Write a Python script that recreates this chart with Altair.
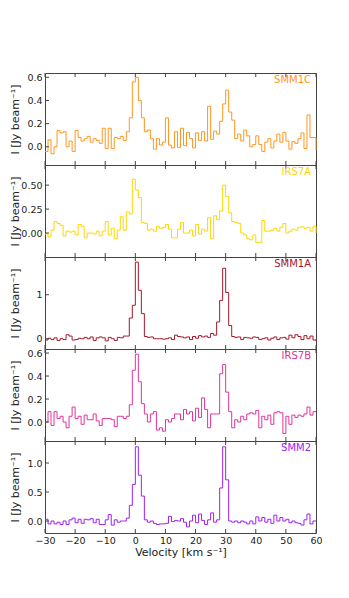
import altair as alt
import pandas as pd

velocity = list(range(-30, 61))

smm1c = [-0.04, 0.06, -0.06, 0.0, 0.14, 0.12, 0.13, 0.0, 0.05, -0.04,
         0.14, 0.08, 0.05, 0.07, 0.09, 0.04, 0.07, 0.055, 0.03, 0.16,
         -0.015, 0.16, -0.015, 0.08, 0.07, 0.09, 0.055, 0.13, 0.25, 0.56,
         0.6, 0.4, 0.25, 0.13, 0.145, 0.07, -0.02, 0.07, 0.015, 0.04,
         0.25, 0.015, -0.01, 0.13, -0.005, 0.16, 0.01, 0.125, 0.07, -0.01,
         0.12, 0.055, 0.13, 0.05, 0.35, 0.065, 0.135, 0.11, 0.22, 0.37,
         0.49, 0.3, 0.23, 0.07, 0.11, 0.05, 0.145, 0.095, 0.0, 0.02,
         0.095, 0.02, -0.04, 0.04, 0.07, -0.01, 0.05, 0.11, 0.04, 0.125,
         0.05, -0.02, 0.045, 0.03, 0.07, 0.12, -0.015, 0.275, 0.08, 0.08, -0.03]

irs7a = [-0.01, -0.04, 0.03, 0.12, 0.1, 0.08, -0.03, 0.02, 0.01, 0.02,
         -0.02, 0.09, 0.07, -0.05, 0.0, 0.0, -0.01, 0.02, -0.03, 0.02,
         0.12, -0.02, 0.05, -0.06, 0.03, 0.17, 0.03, 0.22, 0.2, 0.56,
         0.45, 0.37, 0.11, 0.1, 0.03, 0.04, 0.02, 0.07, 0.05, 0.06,
         0.09, 0.04, -0.05, -0.05, 0.04, 0.11, 0.0, 0.0, 0.03, -0.03,
         0.09, -0.01, 0.04, 0.02, 0.16, -0.06, 0.18, 0.14, 0.23, 0.5,
         0.38, 0.21, 0.12, 0.11, 0.1, 0.0, -0.02, -0.06, -0.07, -0.02,
         -0.1, -0.1, 0.13, 0.02, 0.02, 0.03, 0.05, 0.02, 0.06, 0.1,
         0.0, 0.02, 0.04, 0.03, 0.06, 0.065, 0.05, 0.06, 0.02, 0.07, 0.0]

smm1a = [-0.03, 0.01, -0.02, 0.02, -0.04, 0.0, -0.02, 0.09, 0.06, -0.03,
         -0.02, 0.01, 0.0, 0.03, 0.0, 0.04, -0.04, 0.02, 0.04, 0.02,
         -0.05, 0.03, 0.0, -0.04, 0.03, 0.02, 0.06, 0.06, 0.47, 0.76,
         1.74, 1.1, 0.57, 0.05, 0.03, 0.04, 0.0, 0.0, 0.0, -0.01,
         0.0, 0.02, -0.02, 0.08, 0.05, 0.04, 0.02, 0.04, -0.02, 0.05,
         0.01, 0.07, 0.04, 0.06, 0.03, 0.12, 0.08, 0.38, 0.87, 1.6,
         1.05, 0.3, 0.05, 0.03, 0.04, -0.02, 0.03, 0.02, 0.01, 0.04,
         0.03, -0.02, 0.0, 0.02, -0.03, 0.01, 0.04, -0.02, 0.02, 0.03,
         -0.01, 0.08, 0.02, 0.09, 0.05, -0.02, 0.07, 0.0, 0.06, -0.03, -0.05]

irs7b = [0.0, 0.09, -0.03, 0.09, 0.03, 0.05, 0.0, -0.05, 0.05, 0.13,
         0.03, 0.05, -0.02, 0.06, 0.02, 0.02, 0.07, 0.01, -0.03, 0.03,
         0.03, 0.03, 0.02, -0.04, 0.05, 0.05, 0.03, 0.05, 0.15, 0.45,
         0.59, 0.35, 0.16, 0.07, 0.0, 0.07, 0.09, -0.07, -0.05, -0.08,
         0.02, 0.0, 0.03, 0.07, 0.07, 0.02, 0.11, 0.07, 0.09, 0.01,
         0.12, 0.04, 0.21, 0.11, -0.05, 0.07, 0.07, 0.07, 0.42, 0.5,
         0.26, 0.09, -0.05, 0.02, 0.0, 0.05, 0.02, 0.07, 0.08, 0.07,
         0.1, -0.05, 0.05, 0.02, 0.06, -0.02, 0.08, 0.09, 0.08, -0.1,
         0.05, -0.02, 0.06, 0.04, 0.06, 0.05, 0.07, 0.13, 0.06, 0.09, 0.09]

smm2 = [0.03, -0.05, 0.0, -0.05, -0.02, -0.06, 0.0, -0.06, 0.02, 0.05,
        -0.03, 0.03, -0.04, 0.03, 0.02, 0.04, -0.03, 0.03, -0.06, -0.06,
        0.02, 0.11, -0.07, 0.02, -0.02, 0.0, 0.0, 0.05, 0.27, 0.63,
        1.28, 0.79, 0.43, 0.02, -0.02, 0.0, -0.04, -0.06, -0.05, -0.05,
        -0.04, 0.08, -0.01, 0.01, 0.0, 0.04, -0.02, -0.1, 0.0, 0.1,
        -0.03, 0.12, 0.01, -0.06, 0.02, 0.14, -0.02, 0.02, 0.57, 1.28,
        0.71, 0.0, -0.02, 0.0, -0.03, 0.0, -0.02, -0.05, 0.0, -0.05,
        0.07, 0.0, 0.06, -0.02, 0.03, -0.04, 0.1, 0.0, 0.06, 0.0,
        0.03, -0.03, 0.0, -0.03, -0.04, -0.07, 0.02, 0.12, -0.05, 0.0, 0.0]

names = ["SMM1C", "IRS7A", "SMM1A", "IRS7B", "SMM2"]
values = [smm1c, irs7a, smm1a, irs7b, smm2]
colors = ["#FF9620", "#FFD700", "#A8182A", "#E0359A", "#A020F0"]
y_domains = [[-0.157, 0.637], [-0.25, 0.71], [-0.234, 1.857], [-0.165, 0.635], [-0.207, 1.38]]
y_ticks = [[0.0, 0.2, 0.4, 0.6], [0.0, 0.25, 0.5], [0, 1], [0.0, 0.2, 0.4, 0.6], [0.0, 0.5, 1.0]]
y_formats = [".1f", ".2f", "d", ".1f", ".1f"]
x_ticks = [-30, -20, -10, 0, 10, 20, 30, 40, 50, 60]

W, H = 271, 92
FRAME = "#444444"
FONT = "DejaVu Sans"


def panel(i):
    bottom = i == len(names) - 1
    df = pd.DataFrame({"v": velocity, "f": values[i]})
    xs = alt.Scale(domain=[-30, 60], nice=False, zero=False)
    ys = alt.Scale(domain=y_domains[i], nice=False, zero=False)
    if bottom:
        xax = alt.Axis(values=x_ticks, ticks=False, domain=False, grid=False,
                       labelPadding=2, title="Velocity [km s⁻¹]", titlePadding=2,
                       labelFlush=False, labelOverlap=False)
    else:
        xax = None
    yax = alt.Axis(values=y_ticks[i], format=y_formats[i], ticks=False, domain=False,
                   grid=False, labelPadding=3, title="I [Jy beam⁻¹]",
                   titlePadding=3, minExtent=22, maxExtent=22,
                   labelOverlap=False, labelFlush=False)
    line = alt.Chart(df).mark_line(interpolate="step-after", color=colors[i],
                                   strokeWidth=1).encode(
        x=alt.X("v:Q", scale=xs, axis=xax),
        y=alt.Y("f:Q", scale=ys, axis=yax),
    )
    xt = pd.DataFrame({"v": x_ticks})
    yt = pd.DataFrame({"f": y_ticks[i]})
    top_ticks = alt.Chart(xt).mark_rule(color=FRAME, strokeWidth=1).encode(
        x=alt.X("v:Q", scale=xs, axis=xax), y=alt.value(0), y2=alt.value(4))
    bot_ticks = alt.Chart(xt).mark_rule(color=FRAME, strokeWidth=1).encode(
        x=alt.X("v:Q", scale=xs, axis=xax), y=alt.value(H - 4), y2=alt.value(H))
    left_ticks = alt.Chart(yt).mark_rule(color=FRAME, strokeWidth=1).encode(
        y=alt.Y("f:Q", scale=ys, axis=yax), x=alt.value(0), x2=alt.value(4))
    label = alt.Chart(pd.DataFrame({"name": [names[i]]})).mark_text(
        align="right", baseline="alphabetic", font=FONT, fontSize=10,
        color=colors[i]).encode(x=alt.value(W - 5), y=alt.value(10), text="name:N")
    return alt.layer(line, top_ticks, bot_ticks, left_ticks, label).properties(width=W, height=H)


chart = alt.vconcat(*[panel(i) for i in range(len(names))], spacing=0, bounds="flush").properties(
    padding={"left": 0, "top": 63, "right": 5, "bottom": 5}
).configure_view(stroke=FRAME, strokeWidth=1).configure_axis(
    labelFont=FONT, labelFontSize=9.5, labelColor="#222222",
    titleFont=FONT, titleFontSize=11, titleFontWeight="normal", titleColor="#222222"
)

chart.save("out.html", embed_options={"renderer": "svg", "actions": False})
